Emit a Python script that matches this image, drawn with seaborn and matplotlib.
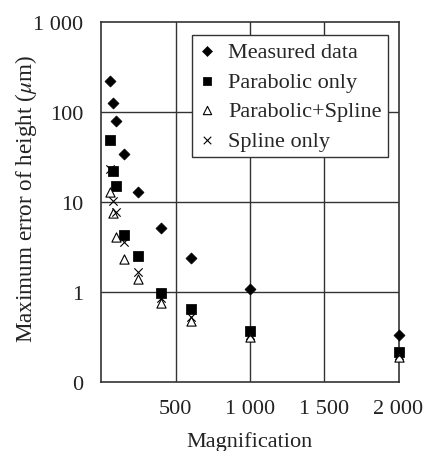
import pandas as pd
import matplotlib
matplotlib.use("Agg")
import matplotlib.pyplot as plt
import seaborn as sns

# magnification values shared by every series
magnification = [60, 80, 100, 150, 250, 400, 600, 1000, 2000]

measured = [221, 126, 79, 34.5, 12.9, 5.1, 2.4, 1.07, 0.335]
parabolic = [48.9, 21.9, 15.0, 4.25, 2.5, 0.98, 0.65, 0.37, 0.215]
parabolic_spline = [12.9, 7.5, 4.1, 2.34, 1.38, 0.76, 0.48, 0.316, 0.19]
spline = [23.4, 10.3, 7.7, 3.6, 1.67, 0.85, 0.53, 0.33, 0.20]

series_names = ["Measured data", "Parabolic only", "Parabolic+Spline", "Spline only"]

x_ticks = [500, 1000, 1500, 2000]
x_tick_labels = ["500", "1 000", "1 500", "2 000"]
y_ticks = [0.1, 1, 10, 100, 1000]
y_tick_labels = ["0", "1", "10", "100", "1 000"]

sns.set_style("white")
plt.rcParams['font.family'] = ['Liberation Serif', 'DejaVu Serif']
plt.rcParams['mathtext.fontset'] = 'stix'

fig = plt.figure(figsize=(4.24, 4.52), dpi=100)
ax = fig.add_axes([0.239, 0.153, 0.701, 0.796])

styles = {
    "Measured data": dict(marker="D", s=32, color="black", edgecolor="black"),
    "Parabolic only": dict(marker="s", s=46, color="black", edgecolor="black"),
    "Parabolic+Spline": dict(marker="^", s=44, facecolor="white", edgecolor="black", linewidth=0.8),
    "Spline only": dict(marker="x", s=36, color="black", linewidth=0.8),
}
values = {
    "Measured data": measured,
    "Parabolic only": parabolic,
    "Parabolic+Spline": parabolic_spline,
    "Spline only": spline,
}

for name in series_names:
    df = pd.DataFrame({"mag": magnification, "err": values[name]})
    sns.scatterplot(data=df, x="mag", y="err", ax=ax, label=name, zorder=3,
                    clip_on=False, **styles[name])

ax.set_yscale("log")
ax.set_xlim(0, 2000)
ax.set_ylim(0.1, 1000)
ax.set_xticks(x_ticks)
ax.set_xticklabels(x_tick_labels)
ax.set_yticks(y_ticks)
ax.set_yticklabels(y_tick_labels)
ax.minorticks_off()
ax.tick_params(axis="both", length=0, labelsize=16, colors="#222222")
ax.tick_params(axis="y", pad=13)
ax.tick_params(axis="x", pad=12)

for x in x_ticks[:-1]:
    ax.axvline(x, color="#333333", lw=1.0, zorder=1)
for y in y_ticks[1:-1]:
    ax.axhline(y, color="#333333", lw=1.0, zorder=1)
for sp in ax.spines.values():
    sp.set_color("#333333")
    sp.set_linewidth(1.2)

ax.set_xlabel("Magnification", fontsize=16, color="#222222")
ax.set_ylabel(r"Maximum error of height ($\mu$m)", fontsize=16.7, color="#222222")
ax.xaxis.set_label_coords(0.5, -0.136)
ax.yaxis.set_label_coords(-0.21, 0.51)

leg = ax.legend(loc="upper right", bbox_to_anchor=(0.966, 0.964), borderaxespad=0,
                fontsize=16, frameon=True, fancybox=False, framealpha=1,
                edgecolor="#333333", handlelength=0.8, handletextpad=0.55,
                labelspacing=0.4, borderpad=0.3, markerscale=0.9)
leg.get_frame().set_linewidth(1.0)

fig.savefig("out.png", dpi=100)
